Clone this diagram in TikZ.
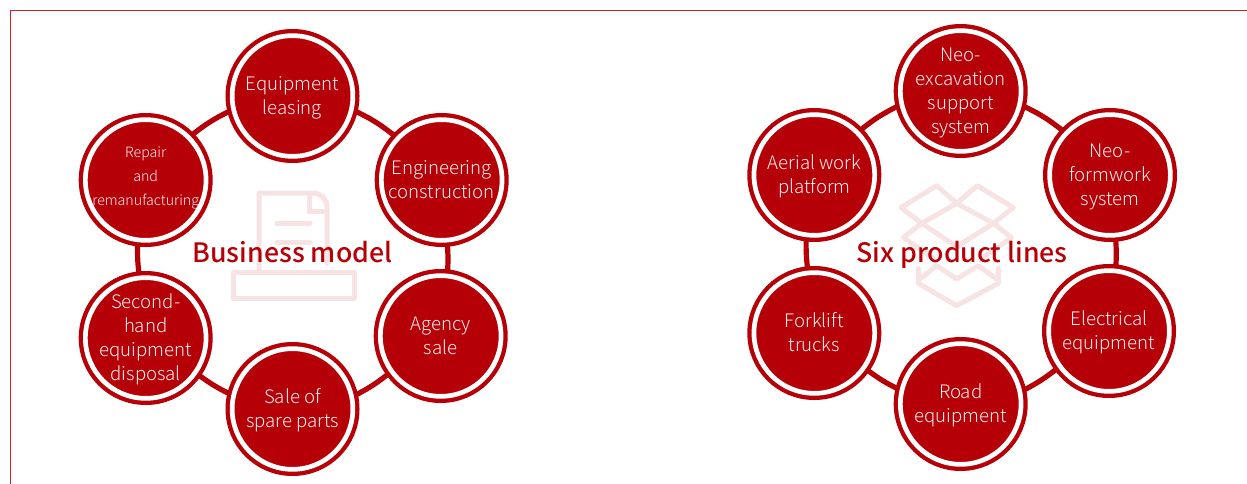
\documentclass[tikz,border=0pt]{standalone}
\usepackage{fontspec}
\setmainfont{Noto Sans CJK SC Light}
\newfontfamily\titlef{Noto Sans CJK SC Medium}
\usetikzlibrary{backgrounds}
\definecolor{brand}{HTML}{B40006}
\definecolor{wm}{HTML}{F7E3E3}
\definecolor{framec}{HTML}{CE1F2B}
\definecolor{ringtext}{HTML}{FCF0F0}
\newcommand{\ringlabel}[2][6.4pt]{\smash{\raisebox{-#1}{\begin{tabular}{@{}c@{}}#2\end{tabular}}}}
\tikzset{
 ring/.style={circle,fill=brand,draw=brand,line width=4.3pt,double=white,double distance=4.7pt,minimum size=120.7pt,inner sep=0pt,outer sep=6.65pt,text=ringtext,font=\fontsize{18.6}{24}\selectfont},
 small/.style={font=\fontsize{14.2}{24}\selectfont},
 link/.style={draw=brand,line width=5.2pt,shorten >=-3pt,shorten <=-3pt},
 heading/.style={text=brand,font=\titlef\fontsize{26.7}{30}\selectfont,inner sep=0pt,execute at begin node=\strut},
 markline/.style={draw=wm,line width=5pt,line join=round,line cap=round}
}
\begin{document}
\begin{tikzpicture}[x=1pt,y=-1pt]
\useasboundingbox (0,0) rectangle (1247,484);
\draw[framec,line width=1.7pt] (10.5,484) -- (10.5,10.5) -- (1247,10.5);
% watermark 1
\draw[markline] (259,270) -- (259,193) -- (313,193) arc[start angle=-90,end angle=0,radius=14] -- (327,263);
\draw[markline] (309,193) -- (309,211) -- (327,211);
\draw[markline] (277,223) -- (310,223);
\draw[markline] (277,242) -- (310,242);
\draw[markline] (233,272) rectangle (354,298);
% watermark 2
\begin{scope}[shift={(890,175)},x=0.3333pt,y=-0.3333pt]
\draw[markline]
 (200,85) -- (140,32) -- (33,98) -- (95,145) -- (200,85) -- (262,32) -- (370,98) -- (310,145) -- (200,85)
 (95,145) -- (40,188) -- (130,250) (310,145) -- (365,188) -- (275,250)
 (95,145) -- (200,215) -- (310,145)
 (85,280) -- (85,325) -- (200,392) -- (325,325) -- (325,280)
 (90,312) -- (140,272) -- (200,312) -- (265,272) -- (320,312);
\end{scope}
% left group
\node[ring] (a1) at (292.5,96) {\ringlabel{Equipment\\leasing}};
\node[ring] (a2) at (441.7,180) {\ringlabel{Engineering\\construction}};
\node[ring] (a3) at (440.7,336) {\ringlabel{Agency\\sale}};
\node[ring] (a4) at (292.5,409) {\ringlabel{Sale of\\spare parts}};
\node[ring] (a5) at (145.7,338) {\ringlabel{Second-\\hand\\equipment\\disposal}};
\node[ring,small] (a6) at (145.7,180) {\ringlabel[0.6pt]{Repair\\and\\remanufacturing}};
\node[heading] (ta) at (292.5,256) {Business model\strut};
% right group
\node[ring] (b1) at (960.7,91) {\ringlabel{Neo-\\excavation\\support\\system}};
\node[ring] (b2) at (1110,175) {\ringlabel{Neo-\\formwork\\system}};
\node[ring] (b3) at (1109,331) {\ringlabel{Electrical\\equipment}};
\node[ring] (b4) at (960.7,404) {\ringlabel{Road\\equipment}};
\node[ring] (b5) at (814.3,333) {\ringlabel{Forklift\\trucks}};
\node[ring] (b6) at (814.3,175) {\ringlabel{Aerial work\\platform}};
\node[heading] (tb) at (962,256) {Six product lines\strut};
\begin{scope}[on background layer]
\foreach \p in {a,b}{
 \foreach \s/\sa/\e/\ea/\b in {1/-14.1/2/137.3/6.4, 2/-85.1/3/84.9/3.4, 3/216.6/4/13.3/5.2, 4/166.7/5/-35.9/4.9, 5/96.1/6/263/3.8, 6/44/1/194.1/6.1}{
  \draw[link] (\p\s.\sa) to[bend left=\b] (\p\e.\ea);
 }
}
\end{scope}
\end{tikzpicture}
\end{document}
